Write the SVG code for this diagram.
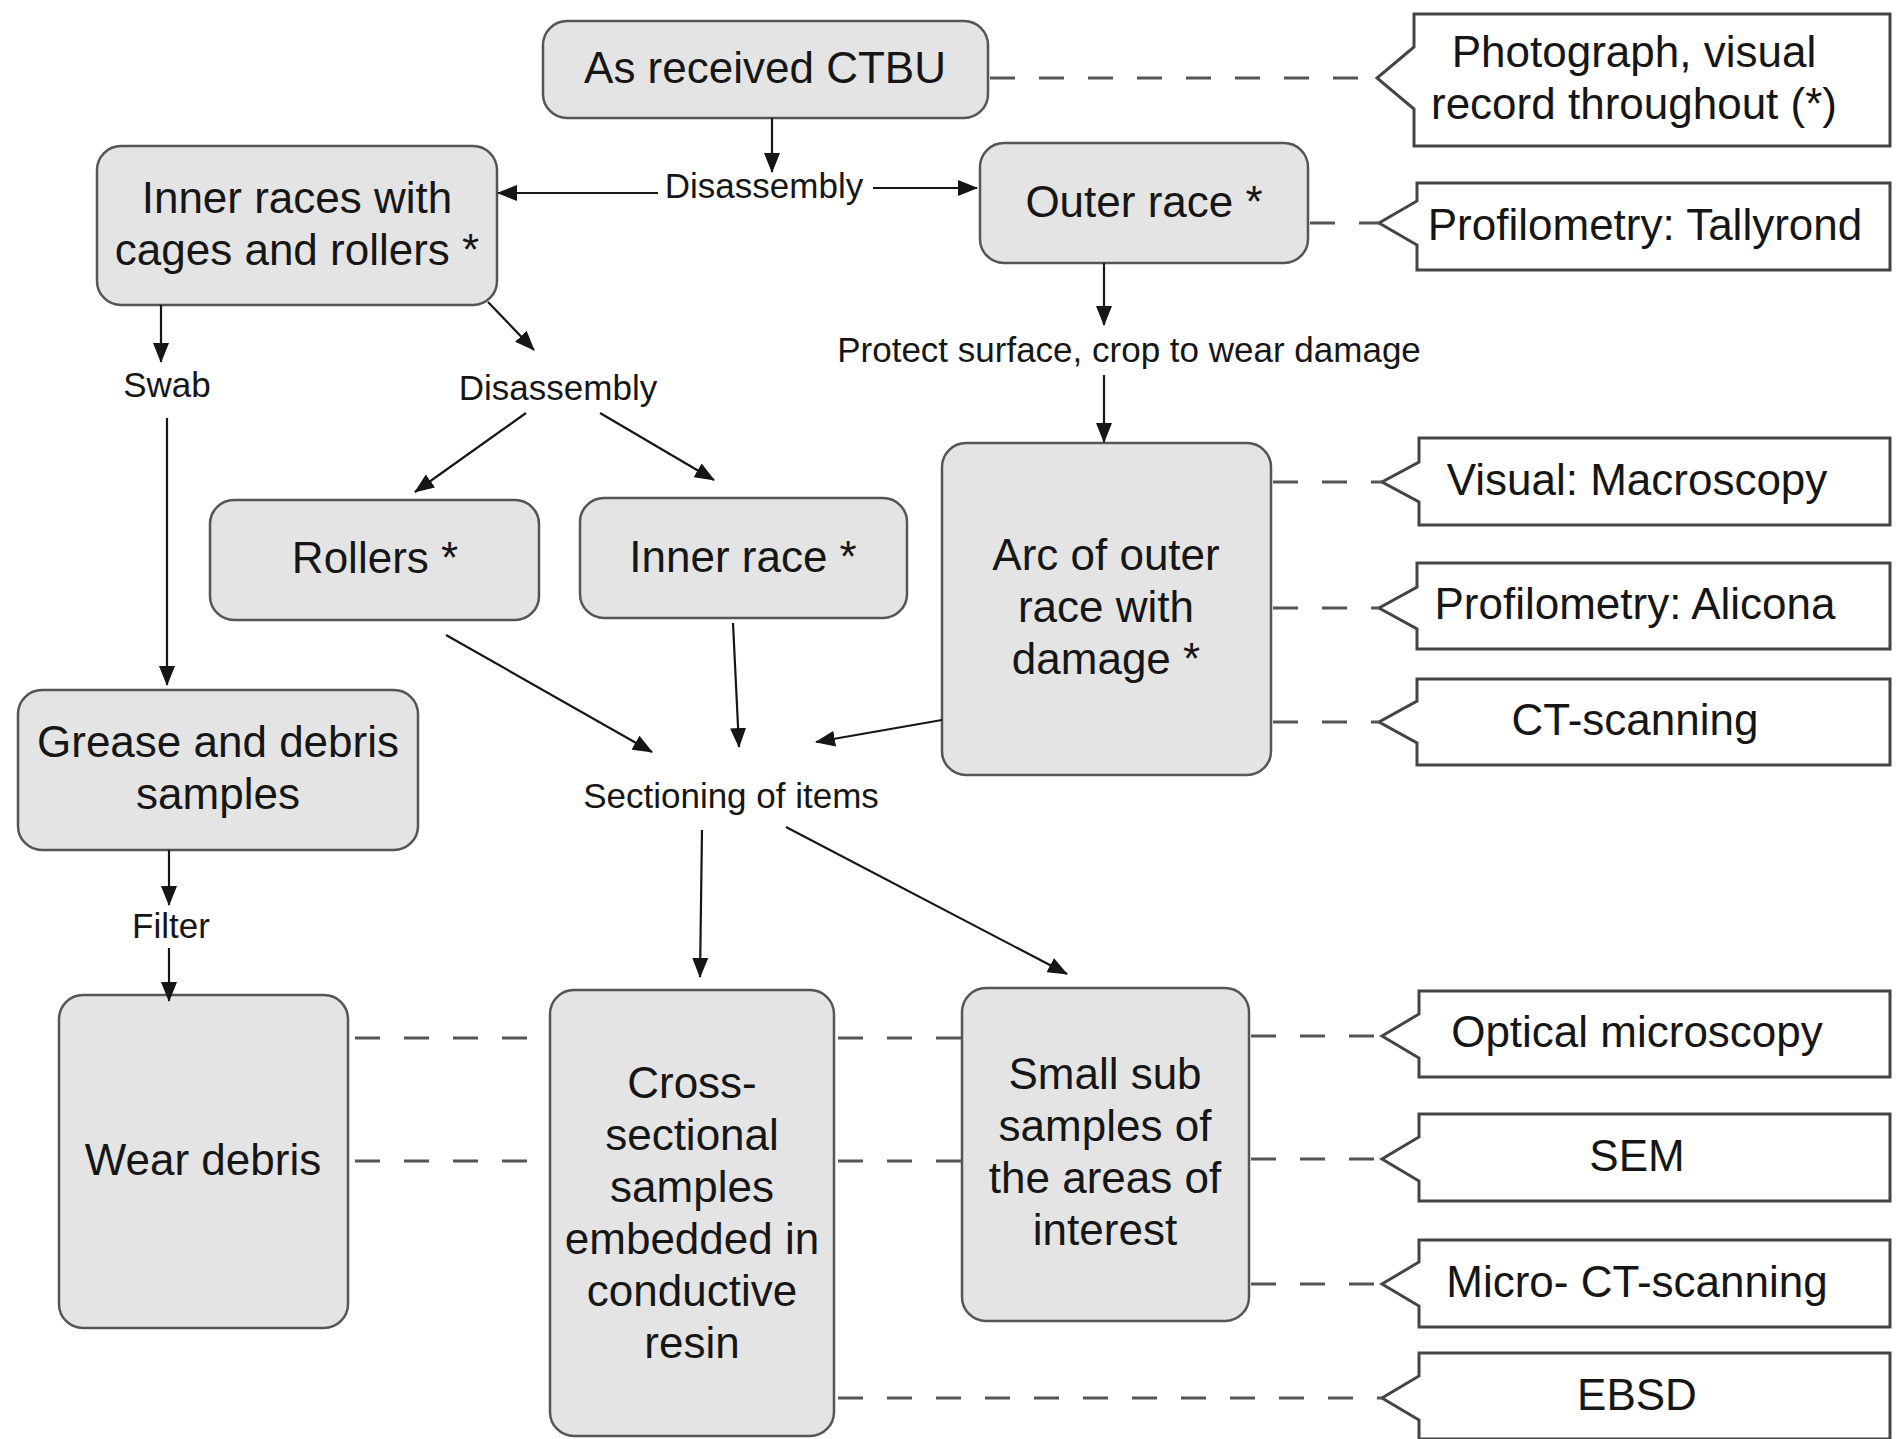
<svg xmlns="http://www.w3.org/2000/svg" width="1898" height="1439" viewBox="0 0 1898 1439">
<style>
.node rect{fill:#e4e4e4;stroke:#555;stroke-width:2.5}
.ann path{fill:#fff;stroke:#444;stroke-width:3}
text{font-family:"Liberation Sans",Arial,Helvetica,sans-serif;font-size:44px;fill:#161616;text-anchor:middle}
text.lbl{font-size:35px}
.arrow{stroke:#161616;stroke-width:2.2;fill:none;marker-end:url(#ah)}
.dash{stroke:#555;stroke-width:3;stroke-dasharray:25 24;fill:none}
</style>
<defs>
<marker id="ah" markerUnits="userSpaceOnUse" markerWidth="20" markerHeight="16" refX="19" refY="8" orient="auto">
<path d="M0,0 L20,8 L0,16 z" fill="#161616"/>
</marker>
</defs>
<rect width="1898" height="1439" fill="#fff"/>

<g id="n-ctbu" class="node"><rect x="543" y="21" width="445" height="97" rx="24"/><text x="765" y="83">As received CTBU</text></g>
<g id="n-inner-races" class="node"><rect x="97" y="146" width="400" height="159" rx="24"/><text x="297" y="213">Inner races with</text><text x="297" y="265">cages and rollers *</text></g>
<g id="n-outer-race" class="node"><rect x="980" y="143" width="328" height="120" rx="24"/><text x="1144" y="217">Outer race *</text></g>
<g id="n-rollers" class="node"><rect x="210" y="500" width="329" height="120" rx="24"/><text x="375" y="573">Rollers *</text></g>
<g id="n-inner-race" class="node"><rect x="580" y="498" width="327" height="120" rx="24"/><text x="743" y="572">Inner race *</text></g>
<g id="n-arc" class="node"><rect x="942" y="443" width="329" height="332" rx="24"/><text x="1106" y="570">Arc of outer</text><text x="1106" y="622">race with</text><text x="1106" y="674">damage *</text></g>
<g id="n-grease" class="node"><rect x="18" y="690" width="400" height="160" rx="24"/><text x="218" y="757">Grease and debris</text><text x="218" y="809">samples</text></g>
<g id="n-wear" class="node"><rect x="59" y="995" width="289" height="333" rx="24"/><text x="203" y="1175">Wear debris</text></g>
<g id="n-cross" class="node"><rect x="550" y="990" width="284" height="446" rx="24"/><text x="692" y="1098">Cross-</text><text x="692" y="1150">sectional</text><text x="692" y="1202">samples</text><text x="692" y="1254">embedded in</text><text x="692" y="1306">conductive</text><text x="692" y="1358">resin</text></g>
<g id="n-small" class="node"><rect x="962" y="988" width="287" height="333" rx="24"/><text x="1105" y="1089">Small sub</text><text x="1105" y="1141">samples of</text><text x="1105" y="1193">the areas of</text><text x="1105" y="1245">interest</text></g>

<g id="a-photo" class="ann"><path d="M1414,14 H1890 V146 H1414 V109 L1377,78 L1414,47 Z"/><text x="1634" y="67">Photograph, visual</text><text x="1634" y="119">record throughout (*)</text></g>
<g id="a-tallyrond" class="ann"><path d="M1417,183 H1890 V270 H1417 V245 L1379,223 L1417,201 Z"/><text x="1645" y="240">Profilometry: Tallyrond</text></g>
<g id="a-visual" class="ann"><path d="M1419,438 H1890 V525 H1419 V502 L1382,482 L1419,462 Z"/><text x="1637" y="495">Visual: Macroscopy</text></g>
<g id="a-alicona" class="ann"><path d="M1417,563 H1890 V649 H1417 V629 L1379,608 L1417,587 Z"/><text x="1635" y="619">Profilometry: Alicona</text></g>
<g id="a-ct" class="ann"><path d="M1417,679 H1890 V765 H1417 V743 L1379,722 L1417,701 Z"/><text x="1635" y="735">CT-scanning</text></g>
<g id="a-optical" class="ann"><path d="M1419,991 H1890 V1077 H1419 V1058 L1382,1036 L1419,1014 Z"/><text x="1637" y="1047">Optical microscopy</text></g>
<g id="a-sem" class="ann"><path d="M1419,1114 H1890 V1201 H1419 V1181 L1382,1159 L1419,1137 Z"/><text x="1637" y="1171">SEM</text></g>
<g id="a-micro" class="ann"><path d="M1419,1240 H1890 V1327 H1419 V1306 L1382,1284 L1419,1262 Z"/><text x="1637" y="1297">Micro- CT-scanning</text></g>
<g id="a-ebsd" class="ann"><path d="M1419,1353 H1890 V1439 H1419 V1420 L1382,1398 L1419,1376 Z"/><text x="1637" y="1410">EBSD</text></g>

<g id="labels">
<text class="lbl" x="764" y="198">Disassembly</text>
<text class="lbl" x="167" y="397">Swab</text>
<text class="lbl" x="558" y="400">Disassembly</text>
<text class="lbl" x="1129" y="362">Protect surface, crop to wear damage</text>
<text class="lbl" x="731" y="808">Sectioning of items</text>
<text class="lbl" x="171" y="938">Filter</text>
</g>

<g id="connectors">
<line class="arrow" x1="772" y1="118" x2="772" y2="172"/>
<line class="arrow" x1="658" y1="193" x2="498" y2="193"/>
<line class="arrow" x1="873" y1="188" x2="977" y2="188"/>
<line class="arrow" x1="1104" y1="263" x2="1104" y2="325"/>
<line class="arrow" x1="1104" y1="375" x2="1104" y2="442"/>
<line class="arrow" x1="161" y1="305" x2="161" y2="362"/>
<line class="arrow" x1="488" y1="302" x2="534" y2="350"/>
<line class="arrow" x1="167" y1="418" x2="167" y2="685"/>
<line class="arrow" x1="526" y1="413" x2="415" y2="492"/>
<line class="arrow" x1="600" y1="413" x2="714" y2="480"/>
<line class="arrow" x1="446" y1="635" x2="652" y2="752"/>
<line class="arrow" x1="733" y1="623" x2="739" y2="747"/>
<line class="arrow" x1="942" y1="720" x2="816" y2="742"/>
<line class="arrow" x1="702" y1="830" x2="700" y2="977"/>
<line class="arrow" x1="786" y1="827" x2="1067" y2="974"/>
<line class="arrow" x1="169" y1="850" x2="169" y2="905"/>
<line class="arrow" x1="169" y1="948" x2="169" y2="1001"/>
<line class="dash" x1="990" y1="78" x2="1377" y2="78"/>
<line class="dash" x1="1310" y1="223" x2="1379" y2="223"/>
<line class="dash" x1="1273" y1="482" x2="1382" y2="482"/>
<line class="dash" x1="1273" y1="608" x2="1379" y2="608"/>
<line class="dash" x1="1273" y1="722" x2="1379" y2="722"/>
<line class="dash" x1="355" y1="1038" x2="550" y2="1038"/>
<line class="dash" x1="355" y1="1161" x2="550" y2="1161"/>
<line class="dash" x1="838" y1="1038" x2="962" y2="1038"/>
<line class="dash" x1="838" y1="1161" x2="962" y2="1161"/>
<line class="dash" x1="1251" y1="1036" x2="1382" y2="1036"/>
<line class="dash" x1="1251" y1="1159" x2="1382" y2="1159"/>
<line class="dash" x1="1251" y1="1284" x2="1382" y2="1284"/>
<line class="dash" x1="838" y1="1398" x2="1382" y2="1398"/>
</g>
</svg>
